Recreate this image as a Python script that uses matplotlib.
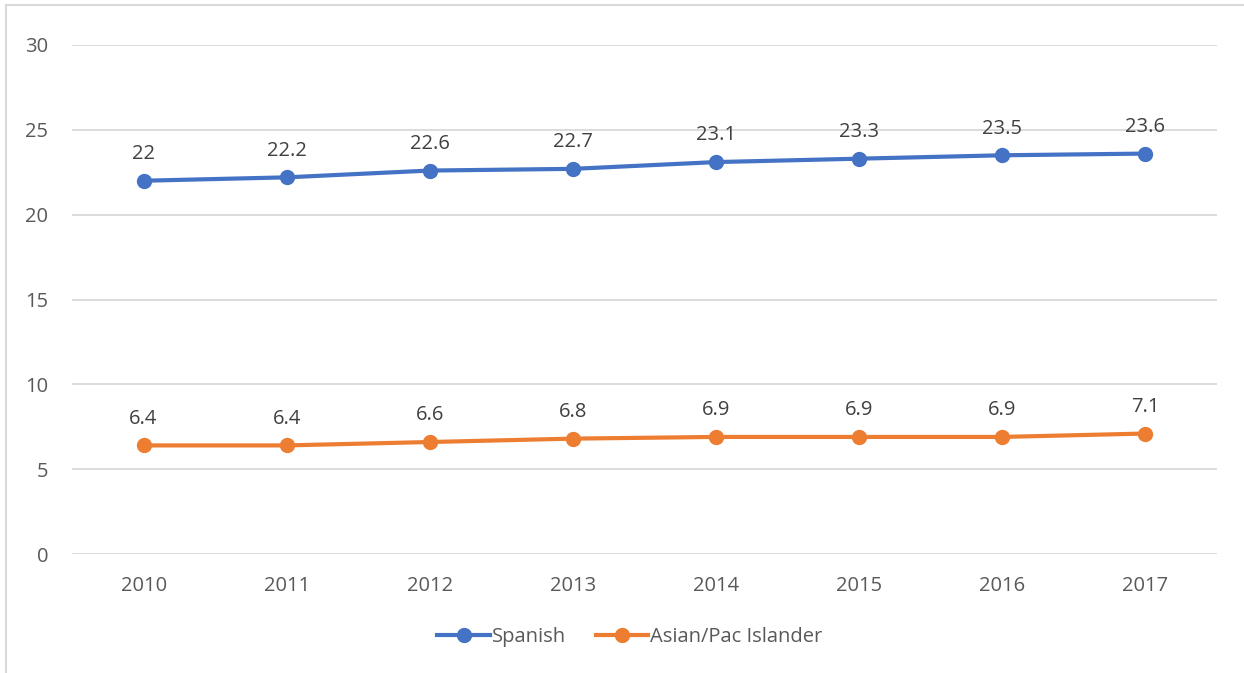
import matplotlib.pyplot as plt
from matplotlib.lines import Line2D

years = ['2010', '2011', '2012', '2013', '2014', '2015', '2016', '2017']
spanish = [22, 22.2, 22.6, 22.7, 23.1, 23.3, 23.5, 23.6]
asian = [6.4, 6.4, 6.6, 6.8, 6.9, 6.9, 6.9, 7.1]
yticks = [0, 5, 10, 15, 20, 25, 30]

blue = '#4472C4'
orange = '#ED7D31'
grey_text = '#595959'

plt.rcParams['font.family'] = ['Open Sans', 'DejaVu Sans']

W, H = 1244, 673
fig = plt.figure(figsize=(W / 100, H / 100), dpi=100)
ax = fig.add_axes([72 / W, 1 - 554 / H, (1217 - 72) / W, (554 - 45) / H])

x = list(range(len(years)))
for vals, col, name in [(spanish, blue, 'Spanish'), (asian, orange, 'Asian/Pac Islander')]:
    ax.plot(x, vals, color=col, lw=3, marker='o', ms=10, label=name,
            solid_capstyle='round', zorder=3)
    for xi, v in zip(x, vals):
        ax.annotate(f'{v:g}', (xi, v), xytext=(0, 12), textcoords='offset points',
                    ha='center', va='bottom', fontsize=14.5, color='#404040')

ax.set_xlim(-0.5, len(years) - 0.5)
ax.set_ylim(0, 30)
ax.set_yticks(yticks)
ax.set_xticks(x)
ax.set_xticklabels(years)
ax.grid(axis='y', color='#d9d9d9', lw=1.3)
ax.set_axisbelow(True)
for s in ax.spines.values():
    s.set_visible(False)
ax.tick_params(length=0, labelsize=14.5, labelcolor=grey_text)
ax.tick_params(axis='x', pad=16)
ax.tick_params(axis='y', pad=17)

handles = [Line2D([], [], color=blue, lw=3, marker='o', ms=10),
           Line2D([], [], color=orange, lw=3, marker='o', ms=10)]
fig.legend(handles, ['Spanish', 'Asian/Pac Islander'], loc='center',
           bbox_to_anchor=(630 / W, 1 - 637 / H), ncol=2, frameon=False,
           fontsize=14.5, labelcolor=grey_text, handlelength=2.6,
           handletextpad=0.1, columnspacing=1.5)

# chart area border (partially cropped in the source)
fig.add_artist(Line2D([6 / W, 6 / W], [0, 1 - 5 / H], color='#d9d9d9', lw=1.5,
                      transform=fig.transFigure))
fig.add_artist(Line2D([6 / W, 1], [1 - 5 / H, 1 - 5 / H], color='#d9d9d9', lw=1.5,
                      transform=fig.transFigure))

fig.savefig('out.png', dpi=100)
